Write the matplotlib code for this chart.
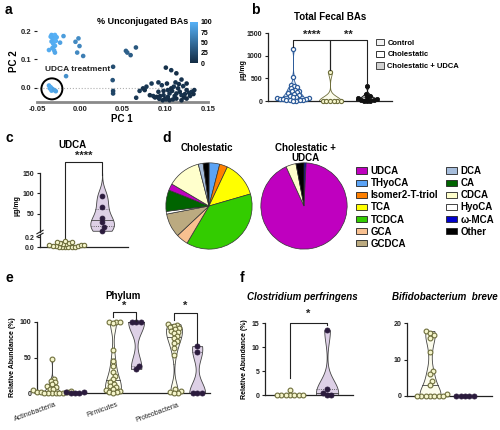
import numpy as np
import matplotlib
matplotlib.use('Agg')
import matplotlib.pyplot as plt
from matplotlib.colors import LinearSegmentedColormap
from matplotlib.patches import Patch, Ellipse
import matplotlib.transforms as mtransforms

plt.rcParams['font.family'] = ['Liberation Sans', 'DejaVu Sans']
plt.rcParams['font.weight'] = 'bold'
plt.rcParams['axes.labelweight'] = 'bold'
plt.rcParams['axes.unicode_minus'] = False

# ---------------- data ----------------
# panel a : PCA
pc1 = [-0.036, -0.033, -0.031, -0.029, -0.032, -0.030, -0.033, -0.028, -0.031, -0.029,
       -0.032, -0.030, -0.029, -0.027, -0.034, -0.023, -0.019, -0.005, -0.0015, -0.0003,
       -0.003, 0.004, -0.016, 0.039, 0.0385, 0.039, 0.039, 0.054, 0.0556, 0.0595,
       0.0657, 0.066,
       0.1007, 0.107, 0.113, 0.119, 0.125, 0.096, 0.102, 0.112, 0.084, 0.092,
       0.074, 0.070, 0.076, 0.082, 0.086, 0.090, 0.094, 0.098, 0.100, 0.103,
       0.105, 0.108, 0.110, 0.115, 0.117, 0.119, 0.122, 0.125, 0.128, 0.131,
       0.133, 0.134, 0.113, 0.109, 0.105, 0.101, 0.097, 0.093, 0.088, 0.125,
       0.129, 0.121, 0.116, 0.107, 0.103, 0.098, 0.092, 0.078, 0.113, 0.119,
       0.111, 0.123]
pc2 = [0.133, 0.186, 0.183, 0.186, 0.175, 0.170, 0.163, 0.165, 0.155, 0.148,
       0.140, 0.132, 0.124, 0.178, 0.180, 0.159, 0.182, 0.162, 0.174, 0.147,
       0.124, 0.112, 0.041, 0.074, 0.027, -0.011, -0.020, 0.130, 0.124, 0.115,
       0.142, -0.035,
       0.071, 0.062, 0.051, 0.029, 0.015, 0.009, 0.015, 0.019, 0.015, 0.019,
       -0.002, -0.011, -0.008, -0.026, -0.029, -0.032, -0.029, -0.026, -0.038, -0.032,
       -0.020, -0.011, 0.004, -0.002, -0.014, -0.026, -0.034, -0.008, -0.018, -0.014,
       -0.022, -0.008, -0.038, -0.041, -0.044, -0.041, -0.044, -0.039, -0.034, -0.038,
       -0.029, 0.006, 0.013, -0.002, -0.008, -0.011, -0.014, 0.004, -0.020, -0.044,
       -0.029, -0.022]
unconj = [95, 98, 97, 100, 96, 98, 95, 99, 97, 96,
          94, 95, 92, 98, 97, 88, 85, 70, 72, 68,
          70, 62, 75, 25, 30, 18, 20, 38, 40, 36,
          33, 10,
          5, 8, 3, 6, 2, 10, 4, 7, 12, 9,
          6, 11, 5, 3, 8, 2, 4, 6, 1, 5,
          7, 3, 9, 4, 2, 6, 1, 5, 3, 7,
          2, 4, 0, 3, 1, 5, 2, 6, 4, 1,
          3, 8, 5, 2, 6, 4, 7, 9, 3, 0,
          2, 4]
pc1_udca = [-0.036, -0.034, -0.032, -0.033, -0.030, -0.028, -0.035]
pc2_udca = [0.008, 0.002, -0.004, -0.010, -0.008, -0.012, -0.002]
unconj_udca = [92, 95, 90, 93, 88, 90, 94]

# panel b : total fecal BAs (ug/mg)
b_groups = ['Control', 'Cholestatic', 'Cholestatic + UDCA']
b_control = [1150, 530, 360, 330, 300, 280, 250, 230, 210, 190, 170, 150, 130, 110,
             95, 80, 70, 60, 50, 40, 35, 30, 25, 20, 15, 10, 5]
b_chol = [640, 4, 3, 2, 2, 1, 1]
b_udca = [320, 150, 110, 80, 60, 40, 30, 20, 10, 5, 2]
b_yticks = [0, 500, 1000, 1500]

# panel c : UDCA (ug/mg)
c_chol = [0.0, 0.0, 0.0, 0.0, 0.0, 0.01, 0.02, 0.02, 0.03, 0.04, 0.05, 0.05,
          0.06, 0.07, 0.08, 0.09, 0.10, 0.10, 0.12]
c_udca = [95, 68, 40, 30, 17, 9]

# panel d : bile acid composition (%)
pie_chol_labels = ['THyoCA', 'Isomer2-T-triol', 'TCA', 'TCDCA', 'GCA', 'GCDCA',
                   'HyoCA', 'CA', 'UDCA', 'CDCA', 'DCA', 'Other']
pie_chol_vals = [4, 3, 13.5, 38, 4.5, 9, 1, 8, 2.5, 12.5, 1.8, 2.2]
pie_udca_labels = ['ω-MCA', 'UDCA', 'CDCA', 'Other']
pie_udca_vals = [0.8, 92.4, 3.8, 3.0]
legend_col1 = ['UDCA', 'THyoCA', 'Isomer2-T-triol', 'TCA', 'TCDCA', 'GCA', 'GCDCA']
legend_col2 = ['DCA', 'CA', 'CDCA', 'HyoCA', 'ω-MCA', 'Other']

# panel e : phylum relative abundance (%)
phyla = ['Actinobacteria', 'Firmicutes', 'Proteobacteria']
e_chol = [
    [48, 20, 17, 15, 12, 10, 8, 6, 5, 4, 3, 2, 1.5, 1, 0.5, 0, 0, 0, 0, 0],
    [100, 100, 100, 98, 60, 45, 38, 30, 24, 20, 16, 13, 10, 8, 6, 4, 3, 2, 1, 0.5],
    [97, 96, 95, 93, 91, 90, 88, 86, 84, 80, 77, 73, 70, 63, 53, 5, 3, 1, 0.5, 0],
]
e_udca = [
    [2, 1, 0.5, 0, 0],
    [100, 100, 100, 38, 34],
    [66, 58, 0, 0, 0],
]

# panel f
cp_chol = [1.0, 0, 0, 0, 0, 0, 0, 0]
cp_udca = [13.5, 1.2, 0.5, 0, 0]
bb_chol = [17.8, 17.3, 16.7, 16.0, 12.0, 6.8, 6.0, 4.0, 3.0, 0.5, 0, 0, 0, 0, 0, 0, 0]
bb_udca = [0, 0, 0, 0, 0]

# ---------------- styles ----------------
BA_COLORS = {'UDCA': '#BF00BF', 'THyoCA': '#5BA3F5', 'Isomer2-T-triol': '#FF8000',
             'TCA': '#FFFF00', 'TCDCA': '#33CC00', 'GCA': '#F8C090', 'GCDCA': '#BBAA80',
             'DCA': '#A6BDDB', 'CA': '#006400', 'CDCA': '#FFFFCC', 'HyoCA': '#FFFFFF',
             'ω-MCA': '#0000CC', 'Other': '#000000'}
CH_FC, CH_EC, CH_VF = '#F6F6CC', '#6E6E3C', '#FCFCEC'
UD_FC, UD_VF = '#2B1B3D', '#DDD0E6'
CT_FC, CT_EC, CT_VF = '#A9C6E8', '#2E5C9A', '#D6E4F4'
DARK = '#222222'

W, H = 500, 430
fig = plt.figure(figsize=(5, 4.3), dpi=100)


def ax_px(l, t, r, b):
    return fig.add_axes([l / W, 1 - b / H, (r - l) / W, (b - t) / H])


def ftxt(x, y, s, **kw):
    return fig.text(x / W, 1 - y / H, s, **kw)


def style(ax, bottom=True, left=True):
    for s in ['top', 'right']:
        ax.spines[s].set_visible(False)
    ax.spines['left'].set_visible(left)
    ax.spines['bottom'].set_visible(bottom)
    for s in ['left', 'bottom']:
        ax.spines[s].set_color(DARK)
        ax.spines[s].set_linewidth(0.9)
    ax.tick_params(axis='both', labelsize=5, length=2.5, width=0.8, pad=1.5, colors=DARK)
    ax.set_xticks([])
    ax.patch.set_alpha(0)


def px_scale(ax):
    p0 = ax.transData.transform((0, 0))
    p1 = ax.transData.transform((1, 1))
    return p1[0] - p0[0], p1[1] - p0[1]


def swarm(ax, vals, d=3.6):
    sx, sy = px_scale(ax)
    y = np.asarray(vals, float) * sy
    order = np.argsort(y, kind='stable')
    placed = []
    xs = np.zeros(len(y))
    for i in order:
        cands = [0.0]
        for xj, yj in placed:
            dy = abs(y[i] - yj)
            if dy < d:
                dx = np.sqrt(d * d - dy * dy)
                cands += [xj + dx, xj - dx]
        cands.sort(key=lambda c: (abs(c), -c))
        for c in cands:
            if all((c - xj) ** 2 + (y[i] - yj) ** 2 >= d * d - 1e-6 for xj, yj in placed):
                xs[i] = c
                placed.append((c, y[i]))
                break
    return xs / sx


def violin(ax, x, vals, fc, ec, hw=0.32, bwf=0.6, hi=None, lw=0.6):
    v = np.asarray(vals, float)
    lo_, hi_ = v.min(), (v.max() if hi is None else hi)
    if hi_ - lo_ <= 0:
        return
    sd = v.std(ddof=1)
    bw = max(sd * len(v) ** (-0.2) * bwf, (hi_ - lo_) * 0.02)
    grid = np.linspace(lo_, hi_, 300)
    dens = np.exp(-0.5 * ((grid[:, None] - v[None, :]) / bw) ** 2).sum(1)
    dens = dens / dens.max() * hw
    ax.fill_betweenx(grid, x - dens, x + dens, facecolor=fc, edgecolor=ec, lw=lw,
                     zorder=2, clip_on=False)
    for q, ls in ((25, ':'), (50, '-'), (75, ':')):
        qv = np.percentile(v, q)
        dq = np.interp(qv, grid, dens)
        ax.plot([x - dq, x + dq], [qv, qv], color=ec, lw=0.6, ls=ls, zorder=2.5,
                clip_on=False)


def dots(ax, x, vals, fc, ec, s=11, lw=0.6, d=3.6):
    off = swarm(ax, vals, d)
    ax.scatter(x + off, vals, s=s, facecolor=fc, edgecolor=ec, linewidth=lw,
               zorder=3, clip_on=False)


def bracket(ax, x0, x1, yb, yl0, yl1, star, ys):
    ax.plot([x0, x0, x1, x1], [yl0, yb, yb, yl1], color=DARK, lw=0.8,
            clip_on=False, zorder=4)
    ax.text((x0 + x1) / 2, ys, star, ha='center', va='baseline', fontsize=8,
            fontweight='bold', color=DARK, clip_on=False)


# ---------------- panel a ----------------
cmap = LinearSegmentedColormap.from_list('ub', ['#132B43', '#56B1F7'])
ax = ax_px(37, 31, 208, 102)
style(ax, left=False)
ax.set_xlim(-0.05, 0.15)
ax.set_ylim(-0.05, 0.2)
ax.spines['bottom'].set_color('#8a8a8a')
ax.spines['bottom'].set_linewidth(2.0)
xt = [-0.05, 0.0, 0.05, 0.10, 0.15]
ax.set_xticks(xt)
ax.set_xticklabels(['%.2f' % v for v in xt])
ax.set_yticks([0.0, 0.1, 0.2])
ax.set_yticklabels(['0.0', '0.1', '0.2'])
ax.tick_params(labelsize=5.5)
ax.tick_params(axis='x', length=0, pad=3)
ax.axhline(0, xmin=0, xmax=0.93, color='#b0b0b0', lw=0.8, ls=':', zorder=1)
sc = ax.scatter(pc1, pc2, c=unconj, cmap=cmap, vmin=0, vmax=100, s=11,
                linewidths=0, zorder=3, clip_on=False)
ax.scatter(pc1_udca, pc2_udca, c=unconj_udca, cmap=cmap, vmin=0, vmax=100, s=11,
           linewidths=0, zorder=3)
sx, sy = px_scale(ax)
ax.add_patch(Ellipse((np.mean(pc1_udca), np.mean(pc2_udca)), 2 * 10.5 / sx, 2 * 10.5 / sy,
                     fill=False, edgecolor='black', lw=1.4, zorder=4, clip_on=False))
ax.text(-0.0405, 0.063, 'UDCA treatment', fontsize=6, fontweight='bold',
        ha='left', va='center', color=DARK)
ftxt(143, 21, '% Unconjugated BAs', fontsize=6.5, ha='center', va='center')
ftxt(122, 119, 'PC 1', fontsize=7, ha='center', va='center')
ftxt(14, 61, 'PC 2', fontsize=7, ha='center', va='center', rotation=90)
cax = ax_px(190, 22, 198, 63)
cb = fig.colorbar(sc, cax=cax, ticks=[0, 25, 50, 75, 100])
cb.outline.set_visible(False)
cax.tick_params(labelsize=5, length=0, pad=2)

# ---------------- panel b ----------------
ax = ax_px(268, 33, 392, 101)
style(ax)
ax.set_xlim(-0.676, 2.676)
ax.set_ylim(0, 1500)
ax.set_yticks(b_yticks)
violin(ax, 0, b_control, CT_VF, CT_EC, hw=0.3)
violin(ax, 1, b_chol, CH_VF, CH_EC, hw=0.3)
violin(ax, 2, b_udca, '#BDBDBD', '#111111', hw=0.3)
dots(ax, 0, b_control, 'white', CT_EC, s=9, lw=0.9, d=3.3)
dots(ax, 1, b_chol, CH_FC, CH_EC, s=9, lw=0.8, d=3.6)
dots(ax, 2, b_udca, '#111111', '#111111', s=9, d=3.3)
bracket(ax, 0, 1, 1345, 1190, 690, '****', 1390)
bracket(ax, 1, 2, 1345, 690, 370, '**', 1390)
ftxt(330, 17, 'Total Fecal BAs', fontsize=7, ha='center', va='center')
ftxt(243, 70, 'µg/mg', fontsize=5, ha='center', va='center', rotation=90)
hb = [Patch(facecolor='#F2F2F2', edgecolor='#444444', lw=0.7),
      Patch(facecolor='white', edgecolor='#333333', lw=0.7),
      Patch(facecolor='#D0D0D0', edgecolor='#444444', lw=0.7)]
fig.legend(hb, b_groups, loc='upper left', bbox_to_anchor=(376 / W, 1 - 39 / H),
           frameon=False, fontsize=5.5, handlelength=1.0, handleheight=0.9,
           labelspacing=0.5, handletextpad=0.5, borderpad=0, borderaxespad=0)

# ---------------- panel c ----------------
axt = ax_px(40, 173, 128, 232)
style(axt, bottom=False)
axt.set_xlim(-0.68, 1.70)
axt.set_ylim(6, 150)
axt.set_yticks([50, 100, 150])
axb = ax_px(40, 235, 128, 247)
style(axb)
axb.set_xlim(-0.68, 1.70)
axb.set_ylim(0, 0.24)
axb.set_yticks([0.0, 0.2])
axb.set_yticklabels(['0.0', '0.2'])
violin(axb, 0, c_chol, CH_VF, CH_EC, hw=0.3)
dots(axb, 0, c_chol, CH_FC, CH_EC, s=10, lw=0.8, d=3.2)
violin(axt, 1, c_udca, UD_VF, '#444444', hw=0.32, bwf=0.8, hi=150)
dots(axt, 1, c_udca, UD_FC, UD_FC, s=12)
for dy in (0.0, -0.05):
    axt.plot([-0.035, 0.035], [dy - 0.03, dy + 0.03], transform=axt.transAxes,
             color=DARK, lw=0.8, clip_on=False)
bracket(axt, 0, 1, 177, -15, 146, '****', 184)
ftxt(72, 145, 'UDCA', fontsize=7, ha='center', va='center')
ftxt(17, 206, 'µg/mg', fontsize=5, ha='center', va='center', rotation=90)

# ---------------- panel d ----------------
for lbls, vals, cx in ((pie_chol_labels, pie_chol_vals, 209),
                       (pie_udca_labels, pie_udca_vals, 304)):
    axp = ax_px(cx - 44, 162, cx + 44, 250)
    axp.pie(vals, colors=[BA_COLORS[l] for l in lbls], startangle=90, counterclock=False,
            wedgeprops=dict(edgecolor='#333333', linewidth=0.5))
    axp.set_xlim(-1.02, 1.02)
    axp.set_ylim(-1.02, 1.02)
    axp.set_aspect('equal')
ftxt(207, 148, 'Cholestatic', fontsize=7, ha='center', va='center')
ftxt(305, 153, 'Cholestatic +\nUDCA', fontsize=7, ha='center', va='center',
     linespacing=1.1)
for labs, x0 in ((legend_col1, 356), (legend_col2, 446)):
    hd = [Patch(facecolor=BA_COLORS[l], edgecolor='#222222', lw=0.6) for l in labs]
    fig.legend(hd, labs, loc='upper left', bbox_to_anchor=(x0 / W, 1 - 166 / H),
               frameon=False, fontsize=7, handlelength=1.1, handleheight=0.6,
               handletextpad=0.4, labelspacing=0.22, borderpad=0, borderaxespad=0)

# ---------------- panel e ----------------
ax = ax_px(37, 322, 210, 393)
style(ax)
ax.set_xlim(-0.434, 2.40)
ax.set_ylim(0, 100)
ax.set_yticks([0, 50, 100])
for i in range(len(phyla)):
    violin(ax, i - 0.19, e_chol[i], CH_VF, '#444444', hw=0.13)
    violin(ax, i + 0.19, e_udca[i], UD_VF, '#444444', hw=0.13)
    dots(ax, i - 0.19, e_chol[i], CH_FC, CH_EC, s=12, lw=0.8, d=3.8)
    dots(ax, i + 0.19, e_udca[i], UD_FC, UD_FC, s=13, d=4.4)
ax.set_xticks(range(len(phyla)))
ax.set_xticklabels(phyla, rotation=20, ha='right', rotation_mode='anchor',
                   fontsize=5, fontweight='normal')
ax.tick_params(axis='x', length=0, pad=6)
off = mtransforms.ScaledTranslation(-8 / 100, 0, fig.dpi_scale_trans)
for t in ax.get_xticklabels():
    t.set_transform(t.get_transform() + off)
bracket(ax, 1 - 0.19, 1 + 0.19, 114, 107, 102, '*', 119)
bracket(ax, 2 - 0.19, 2 + 0.19, 113, 103, 70, '*', 119)
ftxt(123, 296, 'Phylum', fontsize=7, ha='center', va='center')
ftxt(13, 357, 'Relative Abundance (%)', fontsize=5, ha='center', va='center', rotation=90)

# ---------------- panel f ----------------
ax = ax_px(265, 323, 353, 395)
style(ax)
ax.set_xlim(-0.676, 1.70)
ax.set_ylim(0, 15)
ax.set_yticks([0, 5, 10, 15])
violin(ax, 0, cp_chol, CH_VF, '#444444', hw=0.3)
violin(ax, 1, cp_udca, UD_VF, '#444444', hw=0.3)
dots(ax, 0, cp_chol, CH_FC, CH_EC, s=12, lw=0.8, d=4.4)
dots(ax, 1, cp_udca, UD_FC, UD_FC, s=13, d=4.4)
bracket(ax, 0, 1, 15.1, 3.5, 14.6, '*', 16.2)
ftxt(302, 297, 'Clostridium perfringens', fontsize=7, ha='center', va='center',
     style='italic')
ftxt(245, 359, 'Relative Abundance (%)', fontsize=5, ha='center', va='center', rotation=90)

ax = ax_px(407, 323, 492, 396)
style(ax)
ax.set_xlim(-0.657, 1.77)
ax.set_ylim(0, 20)
ax.set_yticks([0, 10, 20])
violin(ax, 0, bb_chol, CH_VF, '#444444', hw=0.3)
violin(ax, 1, bb_udca, UD_VF, '#444444', hw=0.3)
dots(ax, 0, bb_chol, CH_FC, CH_EC, s=12, lw=0.8, d=4.4)
dots(ax, 1, bb_udca, UD_FC, UD_FC, s=13, d=4.4)
ftxt(445, 297, 'Bifidobacterium  breve', fontsize=7, ha='center', va='center',
     style='italic')

# ---------------- panel letters ----------------
for s, x, y in (('a', 5, 10), ('b', 251, 10), ('c', 6, 138), ('d', 162, 138),
                ('e', 6, 278), ('f', 240, 278)):
    ftxt(x, y, s, fontsize=10, fontweight='bold', ha='left', va='center')

fig.savefig('out.png', dpi=100)
